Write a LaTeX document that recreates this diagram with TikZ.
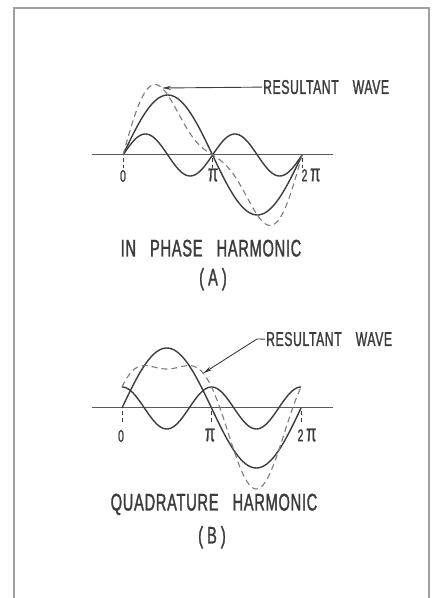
\documentclass[tikz,border=0pt]{standalone}
\usepackage{fontspec}
\newfontfamily\letterfont[FakeStretch=0.61,LetterSpace=3,FakeBold=1.3]{Liberation Sans}
\usetikzlibrary{arrows.meta, positioning}
\definecolor{inkgrey}{HTML}{3C3C3C}
\definecolor{dashgrey}{HTML}{7C7C7C}
\definecolor{framegrey}{HTML}{A0A0A0}
\tikzset{
  >={Stealth[length=9pt, width=4pt]},
  wave/.style={line width=1.4pt, draw=inkgrey, line join=round},
  resultant/.style={line width=1.1pt, draw=dashgrey, dash pattern=on 6pt off 4pt},
  axisline/.style={line width=1pt, draw=inkgrey!85},
  tickmark/.style={line width=0.9pt, draw=inkgrey, dash pattern=on 4pt off 3pt},
  pointer/.style={->, line width=0.9pt, draw=inkgrey},
  lettering/.style={font=\letterfont\fontsize{20}{20}\selectfont, text=inkgrey, inner sep=1pt},
  caption/.style={font=\letterfont\fontsize{24}{24}\selectfont, text=inkgrey, inner sep=1pt},
  tlabel/.style={font=\letterfont\fontsize{17}{17}\selectfont, text=inkgrey, inner sep=1pt},
}
\newcommand{\wavexscale}{28.5}
\newcommand{\waveamp}{60}
\newcommand{\wgap}{\hspace*{14pt}}
\newcommand{\bigpi}{{\fontsize{24}{24}\selectfont π}}

\begin{document}
\begin{tikzpicture}[x=1pt, y=1pt]
  \useasboundingbox (0,0) rectangle (433,598);
  % frame
  \draw[framegrey, line width=1.2pt] (14,0) -- (14,590) -- (429,590) -- (429,0);

  % (A) in phase harmonic
  \begin{scope}[shift={(123,443)}]
    \draw[axisline] (-31,0) -- (210,0);
    \draw[wave] plot[domain=0:6.2832, samples=90, smooth] ({\wavexscale*\x}, {\waveamp*sin(\x r)});
    \draw[wave] plot[domain=0:6.2832, samples=120, smooth] ({\wavexscale*\x}, {0.35*\waveamp*sin(2*\x r)});
    \draw[resultant] plot[domain=0:6.2832, samples=120, smooth] ({\wavexscale*\x}, {\waveamp*(sin(\x r)+0.35*sin(2*\x r))});
    \foreach \k in {0, 1, 2}
      \draw[tickmark] ({\wavexscale*3.1416*\k}, -3) -- ({\wavexscale*3.1416*\k}, -13);
    \node[tlabel] (zeroA) at (0,-21) {0};
    \node[tlabel] (piA) at (90,-20) {\bigpi};
    \node[tlabel] (twopiA) at (188,-20) {2\,\bigpi};
    \coordinate (tipA) at ({\wavexscale*1.37}, {\waveamp*(sin(1.37 r)+0.35*sin(2.74 r))});
  \end{scope}
  \node[lettering, anchor=base west] (resA) at (262,504) {RESULTANT\wgap WAVE};
  \draw[pointer] (resA.west) -- (tipA);
  \node[caption, anchor=base] (capA) at (211,341.5) {IN\wgap PHASE\wgap HARMONIC};
  \node[caption, anchor=base] (tagA) at (213,312.5) {(\,A\,)};

  % (B) quadrature harmonic
  \begin{scope}[shift={(122,190)}]
    \draw[axisline] (-30,0) -- (211,0);
    \draw[wave] plot[domain=0:6.2832, samples=90, smooth] ({\wavexscale*\x}, {\waveamp*sin(\x r)});
    \draw[wave] plot[domain=0:6.2832, samples=120, smooth] ({\wavexscale*\x}, {0.35*\waveamp*cos(2*\x r)});
    \draw[resultant] plot[domain=0:6.2832, samples=120, smooth] ({\wavexscale*\x}, {\waveamp*(sin(\x r)+0.35*cos(2*\x r))});
    \foreach \k in {0, 1, 2}
      \draw[tickmark] ({\wavexscale*3.1416*\k}, -3) -- ({\wavexscale*3.1416*\k}, -16);
    \node[tlabel] (zeroB) at (-1,-28) {0};
    \node[tlabel] (piB) at (88,-27) {\bigpi};
    \node[tlabel] (twopiB) at (185,-27) {2\,\bigpi};
    \coordinate (tipB) at ({\wavexscale*2.85}, {\waveamp*(sin(2.85 r)+0.35*cos(5.7 r))});
  \end{scope}
  \node[lettering, anchor=base west] (resB) at (265,252) {RESULTANT\wgap WAVE};
  \coordinate (kneeB) at (257,259);
  \draw[pointer] (resB.west) -- (kneeB) -- (tipB);
  \node[caption, anchor=base] (capB) at (214,87.5) {QUADRATURE\wgap HARMONIC};
  \node[caption, anchor=base] (tagB) at (212,54.5) {(\,B\,)};
\end{tikzpicture}
\end{document}
